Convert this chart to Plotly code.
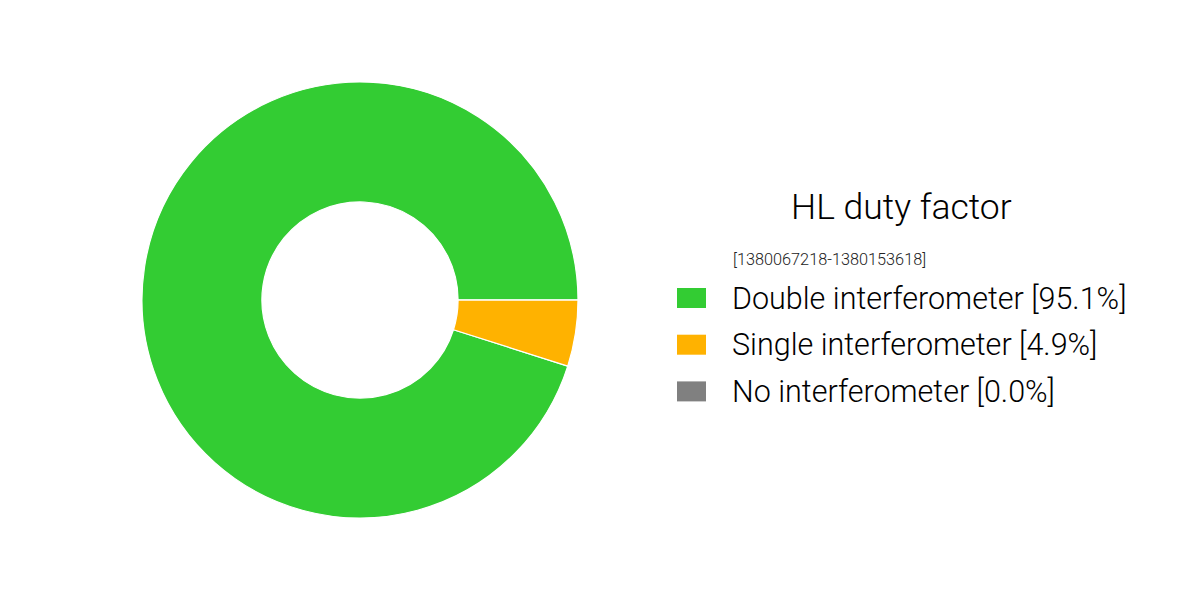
import plotly.graph_objects as go

labels = ["Double interferometer", "Single interferometer", "No interferometer"]
values = [95.1, 4.9, 0.0]
colors = ["#33CC33", "#FFB200", "#808080"]
title = "HL duty factor"
subtitle = "[1380067218-1380153618]"

W, H = 1200, 600
OFF = 8  # page body margin offset
FONT = "Roboto"


def px(x):
    return (x - OFF) / W


def py(y):
    return 1 - (y - OFF) / H


total = sum(values)
# first slice spans counterclockwise from 3 o'clock
rotation = 90 + 360 * (total - values[0]) / total

fig = go.Figure()
fig.add_trace(go.Pie(
    labels=labels, values=values, sort=False, direction="counterclockwise",
    rotation=rotation, hole=0.45, textinfo="none", hoverinfo="label+percent",
    marker=dict(colors=colors, line=dict(color="white", width=1.2)),
    domain=dict(x=[px(142), px(578)], y=[py(518), py(82)]),
    showlegend=False,
))

annotations = [
    dict(text=title, x=px(901), y=py(207), xref="paper", yref="paper",
         xanchor="center", yanchor="middle", showarrow=False,
         font=dict(family=FONT, size=35.5, color="black", weight=300)),
    dict(text=subtitle, x=px(731), y=py(260), xref="paper", yref="paper",
         xanchor="left", yanchor="middle", showarrow=False,
         font=dict(family=FONT, size=16.3, color="#222222", weight=300)),
]
shapes = []
for i, (lab, val, col) in enumerate(zip(labels, values, colors)):
    yc = 298 + i * 46.7
    shapes.append(dict(type="rect", xref="paper", yref="paper",
                       x0=px(677), x1=px(706), y0=py(yc - 10), y1=py(yc + 10),
                       fillcolor=col, line=dict(width=0)))
    annotations.append(dict(
        text=f"{lab} [{100 * val / total:.1f}%]", x=px(730), y=py(yc),
        xref="paper", yref="paper", xanchor="left", yanchor="middle", showarrow=False,
        font=dict(family=FONT, size=30.5, color="black", weight=300)))

fig.update_layout(
    width=W, height=H, margin=dict(l=0, r=0, t=0, b=0),
    paper_bgcolor="white", plot_bgcolor="white",
    annotations=annotations, shapes=shapes,
)
fig.write_html("out.html")
